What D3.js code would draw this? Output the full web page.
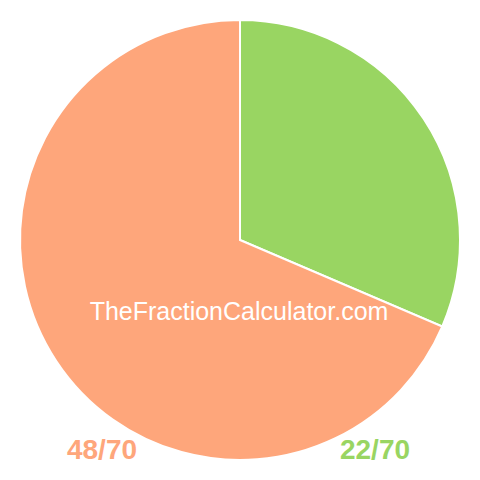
<!DOCTYPE html>
<html><head><meta charset="utf-8">
<script src="https://cdn.jsdelivr.net/npm/d3@7"></script>
<style>body{margin:0;background:#fff}</style>
</head><body>
<svg id="c" width="480" height="480"></svg>
<script>
const labels = ["22/70", "48/70"];
const values = [22, 48];
const colors = ["#99d562", "#fea67b"];
const watermark = "TheFractionCalculator.com";

const svg = d3.select("#c");
const g = svg.append("g").attr("transform", "translate(240,240)");
const pie = d3.pie().sort(null).value(d => d)(values);
const arc = d3.arc().innerRadius(0).outerRadius(220);
g.selectAll("path").data(pie).join("path")
  .attr("d", arc)
  .attr("fill", (d, i) => colors[i])
  .attr("stroke", "#fff").attr("stroke-width", 2);

svg.append("text").attr("x", 239).attr("y", 320).attr("text-anchor", "middle")
  .attr("font-family", "Liberation Sans, Arial, sans-serif").attr("font-size", 25)
  .attr("fill", "#fff").text(watermark);

const lx = [375, 102];
svg.selectAll("text.lbl").data(labels).join("text").attr("class", "lbl")
  .attr("x", (d, i) => lx[i]).attr("y", 459).attr("text-anchor", "middle")
  .attr("font-family", "Liberation Sans, Arial, sans-serif").attr("font-weight", "bold")
  .attr("font-size", 28).attr("fill", (d, i) => colors[i]).text(d => d);
</script>
</body></html>
